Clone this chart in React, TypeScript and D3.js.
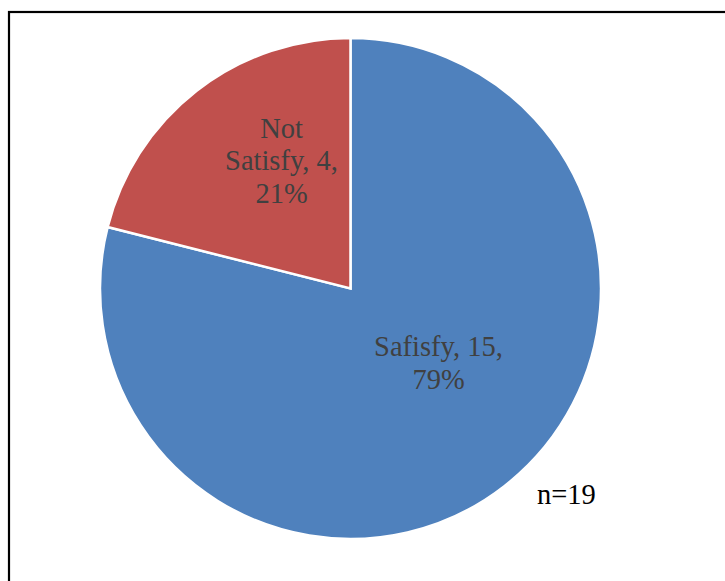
import React from "react";
import * as d3 from "d3";

const categories = ["Safisfy", "Not Satisfy"];
const values = [15, 4];
const percents = ["79%", "21%"];
const colors = ["#4F81BD", "#C0504D"];
const labelLines = [
  ["Safisfy, 15,", "79%"],
  ["Not", "Satisfy, 4,", "21%"],
];
const noteText = "n=19";

const W = 725;
const H = 581;
const cx = 350.5;
const cy = 288.5;
const R = 250.5;
// label block center offsets relative to pie center (layout)
const labelOffsets = [
  [88, 74],
  [-69, -128],
];

export default function App() {
  const pie = d3.pie<number>().sort(null).value((d) => d)(values);
  const arc = d3.arc<d3.PieArcDatum<number>>().innerRadius(0).outerRadius(R);
  const fontSize = 28.5;
  const lh = 32.5;
  return (
    <svg
      width={W}
      height={H}
      style={{ position: "absolute", left: 0, top: 0, display: "block", background: "#fff" }}
    >
      <rect x={9} y={12} width={W + 50} height={H + 50} fill="#fff" stroke="#000" strokeWidth={2.2} />
      <g transform={`translate(${cx},${cy})`}>
        {pie.map((p, i) => (
          <path key={categories[i]} d={arc(p) || ""} fill={colors[i]} stroke="#fff" strokeWidth={2.5} strokeLinejoin="miter" />
        ))}
        {pie.map((p, i) => {
          const lines = labelLines[i];
          const [ox, oy] = labelOffsets[i];
          const startY = oy - ((lines.length - 1) * lh) / 2;
          return (
            <text
              key={"l" + i}
              textAnchor="middle"
              fontFamily="'Liberation Serif', 'Times New Roman', serif"
              fontSize={fontSize}
              fill="#404040"
            >
              {lines.map((t, j) => (
                <tspan key={j} x={ox} y={startY + j * lh} dy="0.35em">
                  {t}
                </tspan>
              ))}
            </text>
          );
        })}
      </g>
      <text x={537} y={504} fontFamily="'Liberation Serif', 'Times New Roman', serif" fontSize={28.5} fill="#000">
        {noteText}
      </text>
    </svg>
  );
}
